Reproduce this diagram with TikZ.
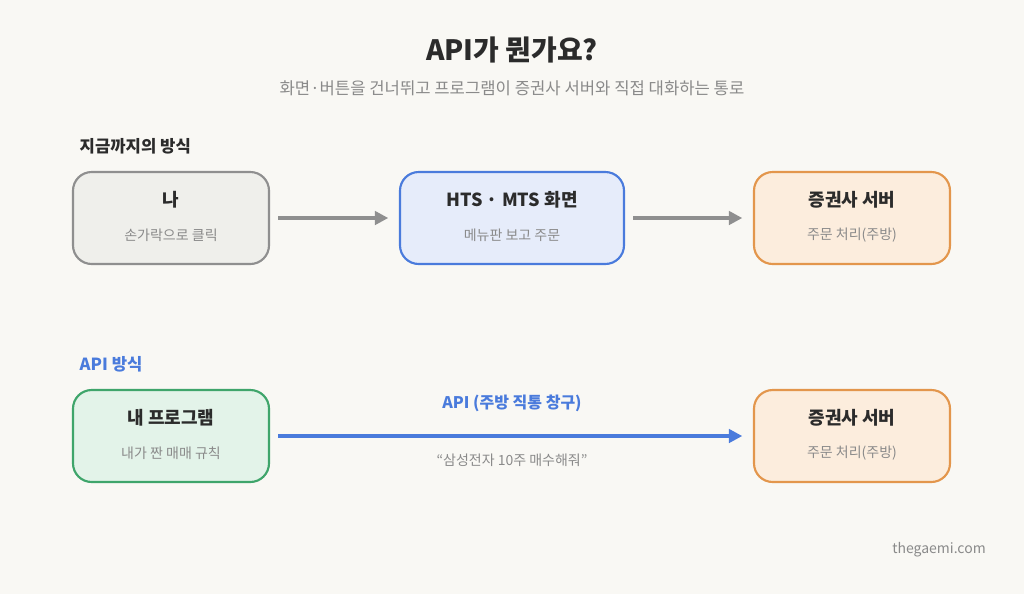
\documentclass[tikz,border=0pt]{standalone}
\usepackage{fontspec}
\setmainfont{Noto Sans CJK KR}
\usetikzlibrary{arrows.meta,positioning}
\definecolor{bgc}{HTML}{F9F8F4}
\definecolor{txt}{HTML}{2B2B2B}
\definecolor{subc}{HTML}{8A8A8A}
\definecolor{grayfill}{HTML}{EFEFEB}
\definecolor{grayline}{HTML}{8F8F8F}
\definecolor{bluefill}{HTML}{E6ECFA}
\definecolor{blueline}{HTML}{4A7BDC}
\definecolor{orfill}{HTML}{FCEDDD}
\definecolor{orline}{HTML}{E3964C}
\definecolor{grfill}{HTML}{E3F3E9}
\definecolor{grline}{HTML}{3FA56B}
\tikzset{
  box/.style={rounded corners=14pt, line width=1.6pt, minimum width=147pt, minimum height=69pt},
  ttl/.style={font=\fontsize{13.5}{16}\selectfont\bfseries, text=txt},
  sub/.style={font=\fontsize{10.5}{12}\selectfont, text=subc},
  head/.style={font=\fontsize{12.5}{15}\selectfont\bfseries, anchor=west},
  flow/.style={-{Triangle[length=10pt,width=10pt]}, line width=2.6pt, draw=grayline}
}
\begin{document}
\begin{tikzpicture}[x=0.75pt,y=-0.75pt]
  % background
  \fill[bgc] (0,0) rectangle (1024,594);

  % title
  \node[font=\fontsize{21}{25}\selectfont\bfseries, text=txt] (title) at (512,50) {API가 뭔가요?};
  \node[font=\fontsize{12.5}{15}\selectfont, text=subc] (subtitle) at (512,88) {화면·버튼을 건너뛰고 프로그램이 증권사 서버와 직접 대화하는 통로};

  % current way
  \node[head, text=txt] (old) at (75,146) {지금까지의 방식};
  \node[box, fill=grayfill, draw=grayline] (me) at (171,218) {};
  \node[ttl] at (171,200) {나};
  \node[sub] at (171,235) {손가락으로 클릭};
  \node[box, fill=bluefill, draw=blueline, minimum width=168pt] (hts) at (512,218) {};
  \node[ttl] at (512,200) {HTS · MTS 화면};
  \node[sub] at (512,235) {메뉴판 보고 주문};
  \node[box, fill=orfill, draw=orline] (srv) at (852,218) {};
  \node[ttl] at (852,200) {증권사 서버};
  \node[sub] at (852,235) {주문 처리(주방)};
  \draw[flow] ([xshift=6pt]me.east) -- ([xshift=-8pt]hts.west);
  \draw[flow] ([xshift=6pt]hts.east) -- ([xshift=-8pt]srv.west);

  % API way
  \node[head, text=blueline] (api) at (75,364) {API 방식};
  \node[box, fill=grfill, draw=grline] (prog) at (171,436) {};
  \node[ttl] at (171,418) {내 프로그램};
  \node[sub] at (171,453) {내가 짠 매매 규칙};
  \node[box, fill=orfill, draw=orline] (srv2) at (852,436) {};
  \node[ttl] at (852,418) {증권사 서버};
  \node[sub] at (852,453) {주문 처리(주방)};
  \draw[flow, draw=blueline, line width=3.4pt] ([xshift=6pt]prog.east) -- ([xshift=-8pt]srv2.west);
  \node[font=\fontsize{12}{14}\selectfont\bfseries, text=blueline] at (512,403) {API (주방 직통 창구)};
  \node[sub, font=\fontsize{10.5}{12}\selectfont] at (512,460) {“삼성전자 10주 매수해줘”};

  % footer
  \node[font=\fontsize{10.5}{12}\selectfont, text=subc] (site) at (939,550) {thegaemi.com};
\end{tikzpicture}
\end{document}
